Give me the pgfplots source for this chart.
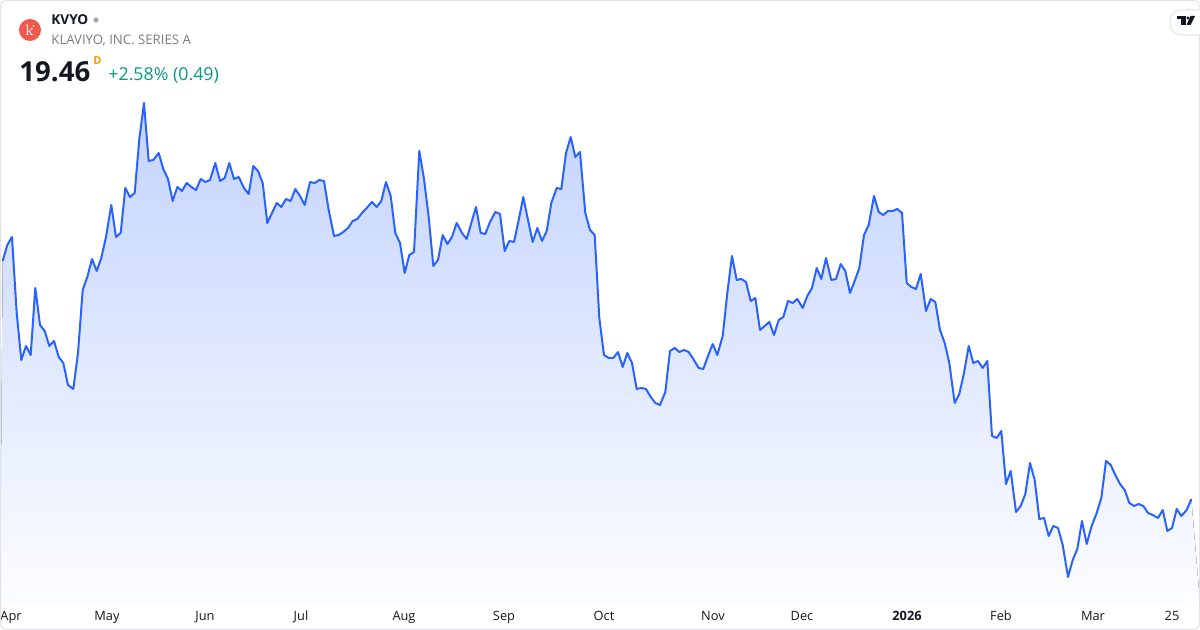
\documentclass[border=0pt]{standalone}
\usepackage{pgfplots}
\pgfplotsset{compat=1.18}
\usepackage{pgfplotstable}
\usepgfplotslibrary{fillbetween}
\usepackage{fontspec}
\setmainfont{Open Sans}
\definecolor{tvblue}{RGB}{41,98,255}
\definecolor{filltop}{RGB}{195,211,255}
\definecolor{fillbot}{RGB}{252,253,255}
\definecolor{tvtext}{RGB}{19,23,34}
\definecolor{tvgray}{RGB}{120,123,134}
\definecolor{tvgreen}{RGB}{8,153,129}
\definecolor{tvorange}{RGB}{255,152,0}
\definecolor{logored}{RGB}{240,90,74}
\definecolor{bordergray}{RGB}{224,227,235}

\pgfplotstableread{
x y
2.7 31.36
7.3 32.16
12 32.56
16.7 28.76
21.3 26.41
26 27.11
30.7 26.66
35.3 30.01
40 28.16
44.7 27.86
49.3 27.11
54 27.36
58.7 26.56
63.3 26.26
68 25.16
73.3 24.96
78 26.76
82.7 29.91
87.3 30.56
92 31.46
96.7 30.86
101.3 31.51
106 32.56
111.3 34.16
116 32.56
120.7 32.76
125.3 35.01
130 34.56
134.7 34.76
139.3 37.46
144 39.26
148.7 36.36
153.3 36.41
158.7 36.76
163.3 35.96
168 35.46
172.7 34.36
177.3 35.06
182 34.86
186.7 35.26
191.3 35.06
196 34.91
200.7 35.46
205.3 35.31
210 35.41
215.3 36.26
220 35.36
224.7 35.51
229.3 36.26
234 35.46
238.7 35.56
244 35.01
248.7 34.71
253.3 36.11
258 35.86
262.7 35.26
267.3 33.26
272 33.76
276.7 34.26
281.3 34.06
286 34.46
290.7 34.36
295.3 34.96
300 34.61
304.7 34.16
310 35.31
314.7 35.26
319.3 35.41
324 35.36
328.7 33.91
334 32.61
338.7 32.66
343.3 32.81
348 33.01
352.7 33.36
357.3 33.46
362 33.76
366.7 34.01
372 34.31
376.7 34.06
381.3 34.36
386 35.31
390.7 34.61
395.3 32.76
400 32.26
404.7 30.76
409.3 31.66
414 31.81
419.3 36.86
424 35.46
428.7 33.56
433.3 31.11
438 31.41
442.7 32.66
447.3 32.21
452 32.56
456.7 33.26
462 32.76
466.7 32.46
471.3 33.26
476 34.06
480.7 32.76
485.3 32.71
490 33.31
495.3 33.81
500 33.71
504.7 31.86
509.3 32.36
514 32.31
518.7 33.41
523.3 34.56
528 33.41
532.7 32.31
537.3 33.01
542 32.36
546.7 32.86
551.3 34.26
556.7 35.01
561.3 34.96
566 36.76
570.7 37.56
575.3 36.56
580 36.81
585.3 33.76
590 32.91
594.7 32.66
599.3 28.51
604 26.66
608.7 26.51
613.3 26.51
618 26.81
622.7 26.06
627.3 26.76
632 26.26
636.7 24.96
641.3 25.01
646 24.96
650.7 24.56
655.3 24.26
660 24.16
665.3 24.81
670 26.86
674.7 27.01
679.3 26.81
684 26.91
688.7 26.81
693.3 26.46
698.7 26.01
703.3 25.96
708 26.61
712.7 27.21
717.3 26.66
722.7 27.61
727.3 29.76
732 31.61
736.7 30.41
741.3 30.46
746 30.31
750.7 29.36
755.3 29.51
760 27.91
764.7 28.11
769.3 28.31
774 27.66
778.7 28.41
783.3 28.56
788 29.36
792.7 29.26
797.3 29.46
802.7 29.01
807.3 29.61
812 30.01
816.7 31.01
821.3 30.46
826 31.51
831.3 30.41
836 30.46
840.7 31.21
845.3 30.86
850 29.76
854.7 30.36
859.3 31.01
864 32.66
868.7 33.16
874 34.61
878.7 33.81
883.3 33.66
888 33.86
892.7 33.86
897.3 33.96
902 33.76
906.7 30.26
911.3 30.06
916 29.96
920.7 30.71
926 28.86
930.7 29.46
935.3 29.31
940 27.91
944.7 27.26
949.3 26.26
954.7 24.26
959.3 24.71
964 25.76
968.7 27.11
973.3 26.26
978 26.36
982.7 26.01
987.3 26.36
992 22.61
996.7 22.51
1001.3 22.86
1006 20.21
1010.7 20.86
1016 18.81
1020.7 19.11
1025.3 19.71
1030 21.26
1034.7 20.41
1039.3 18.46
1044 18.51
1048.7 17.61
1053.3 18.11
1058 18.01
1062.7 17.16
1068 15.56
1072.7 16.41
1077.3 16.96
1082 18.36
1086.7 17.21
1091.3 18.06
1096.7 18.76
1101.3 19.51
1106 21.36
1110.7 21.16
1115.3 20.66
1120 20.21
1124.7 19.91
1129.3 19.26
1134 19.11
1138.7 19.21
1143.3 19.11
1148 18.76
1152.7 18.66
1158 18.51
1162.7 18.91
1167.3 17.86
1172 18.01
1176.7 18.96
1181.3 18.61
1186.7 18.91
1191.3 19.46
}\pricetable

\begin{document}
\begin{tikzpicture}
\begin{axis}[
  scale only axis,
  width=600pt, height=315pt,
  xmin=0, xmax=1200,
  ymin=12.91, ymax=44.41,
  axis line style={draw=none},
  major tick length=0pt,
  ytick=\empty,
  xtick={11,107,205,301,404,504,604,713,802,907,1001,1093,1172},
  xticklabels={Apr,May,Jun,Jul,Aug,Sep,Oct,Nov,Dec,\textbf{2026},Feb,Mar,25},
  xticklabel style={anchor=base, yshift=4.6pt, font=\fontsize{6.4pt}{7.5pt}\selectfont, text=tvtext, inner sep=0pt},
  clip=true,
]
\addplot[name path=price, draw=none, forget plot] table[x=x, y=y] {\pricetable};
\path[name path=base] (axis cs:0,14.26) -- (axis cs:1200,14.26);
\addplot[draw=none, top color=filltop, bottom color=fillbot, on layer=main] fill between[of=price and base];
\addplot[tvblue, line width=1pt, line join=round, mark=none] table[x=x, y=y] {\pricetable};
\end{axis}

\begin{scope}[yshift=315pt, x=0.5pt, y=-0.5pt]
  % border
  \draw[bordergray, line width=0.5pt, rounded corners=3pt] (0.5,0.5) rectangle (1199.5,629.5);
  % logo
  \fill[logored] (30,30) circle (11);
  \node[text=white, font=\fontfamily{lmr}\fontsize{7.5pt}{8pt}\selectfont] at (29.5,30.5) {k};
  \fill[white] (33.5,26) circle (0.9);
  % header
  \node[anchor=base west, inner sep=0pt, text=tvtext, font=\fontsize{6.8pt}{8pt}\selectfont\bfseries] at (51,25) {KVYO};
  \fill[tvgray!70] (96,20) circle (2.6);
  \node[anchor=base west, inner sep=0pt, text=tvgray, font=\fontsize{6.6pt}{8pt}\selectfont] at (51,45) {KLAVIYO, INC. SERIES A};
  \node[anchor=base west, inner sep=0pt, text=tvtext, font=\fontsize{13.8pt}{15pt}\selectfont\bfseries] at (19,82) {19.46};
  \node[anchor=base west, inner sep=0pt, text=tvorange, font=\fontsize{5.5pt}{6pt}\selectfont\bfseries] at (93,65) {D};
  \node[anchor=base west, inner sep=0pt, text=tvgreen, font=\fontsize{8.9pt}{10pt}\selectfont] at (108,81) {+2.58\% (0.49)};
  % TradingView badge
  \fill[black!6, rounded corners=6pt] (1169,9) rectangle (1212,36);
  \fill[white, rounded corners=5.5pt] (1171,11) rectangle (1212,34);
  \fill[tvtext] (1177.3,16) rectangle (1186,19.3);
  \fill[tvtext] (1181.3,16) rectangle (1186,25);
  \fill[tvtext] (1188,18) circle (1.7);
  \fill[tvtext] (1190.5,16) -- (1195,16) -- (1190.5,25) -- (1186.5,25) -- cycle;
\end{scope}
\pgfresetboundingbox
\path[use as bounding box] (0,0) rectangle (600pt,315pt);
\end{tikzpicture}
\end{document}
